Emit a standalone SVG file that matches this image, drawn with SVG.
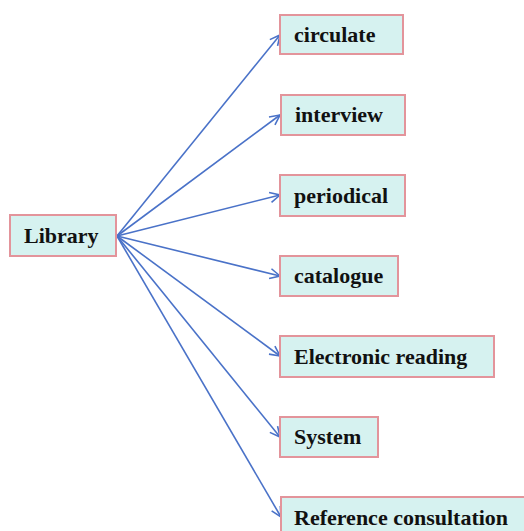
<svg xmlns="http://www.w3.org/2000/svg" width="524" height="531" viewBox="0 0 524 531">
<style>
.box{fill:#d6f2f0;stroke:#e3949b;stroke-width:2}
.lbl{font-family:"Liberation Serif","Times New Roman",serif;font-weight:bold;font-size:22px;fill:#111}
.edge{stroke:#4a72c8;stroke-width:1.6;fill:none}
</style>
<defs>
<marker id="arr" viewBox="0 0 12 12" refX="11" refY="6" markerWidth="12" markerHeight="12" markerUnits="userSpaceOnUse" orient="auto">
<path d="M1,1 L11,6 L1,11" fill="none" stroke="#4a72c8" stroke-width="1.6"/>
</marker>
</defs>
<rect width="524" height="531" fill="#fff"/>
<g id="connectors">
<line class="edge" x1="117" y1="236" x2="280" y2="35" marker-end="url(#arr)"/>
<line class="edge" x1="117" y1="236" x2="280" y2="115" marker-end="url(#arr)"/>
<line class="edge" x1="117" y1="236" x2="280" y2="195" marker-end="url(#arr)"/>
<line class="edge" x1="117" y1="236" x2="280" y2="276" marker-end="url(#arr)"/>
<line class="edge" x1="117" y1="236" x2="280" y2="356" marker-end="url(#arr)"/>
<line class="edge" x1="117" y1="236" x2="280" y2="437" marker-end="url(#arr)"/>
<line class="edge" x1="117" y1="236" x2="281" y2="517" marker-end="url(#arr)"/>
</g>
<g id="library"><rect class="box" x="10" y="215" width="106" height="41"/><text class="lbl" x="24" y="243">Library</text></g>
<g id="circulate"><rect class="box" x="280" y="15" width="123" height="39"/><text class="lbl" x="294" y="42">circulate</text></g>
<g id="interview"><rect class="box" x="281" y="95" width="124" height="40"/><text class="lbl" x="295" y="122">interview</text></g>
<g id="periodical"><rect class="box" x="280" y="175" width="125" height="41"/><text class="lbl" x="294" y="203">periodical</text></g>
<g id="catalogue"><rect class="box" x="280" y="256" width="118" height="40"/><text class="lbl" x="294" y="283">catalogue</text></g>
<g id="electronic"><rect class="box" x="280" y="336" width="214" height="41"/><text class="lbl" x="294" y="364">Electronic reading</text></g>
<g id="system"><rect class="box" x="280" y="417" width="98" height="40"/><text class="lbl" x="294" y="444">System</text></g>
<g id="reference"><rect class="box" x="281" y="497" width="250" height="44"/><text class="lbl" x="294" y="525">Reference consultation</text></g>
</svg>
